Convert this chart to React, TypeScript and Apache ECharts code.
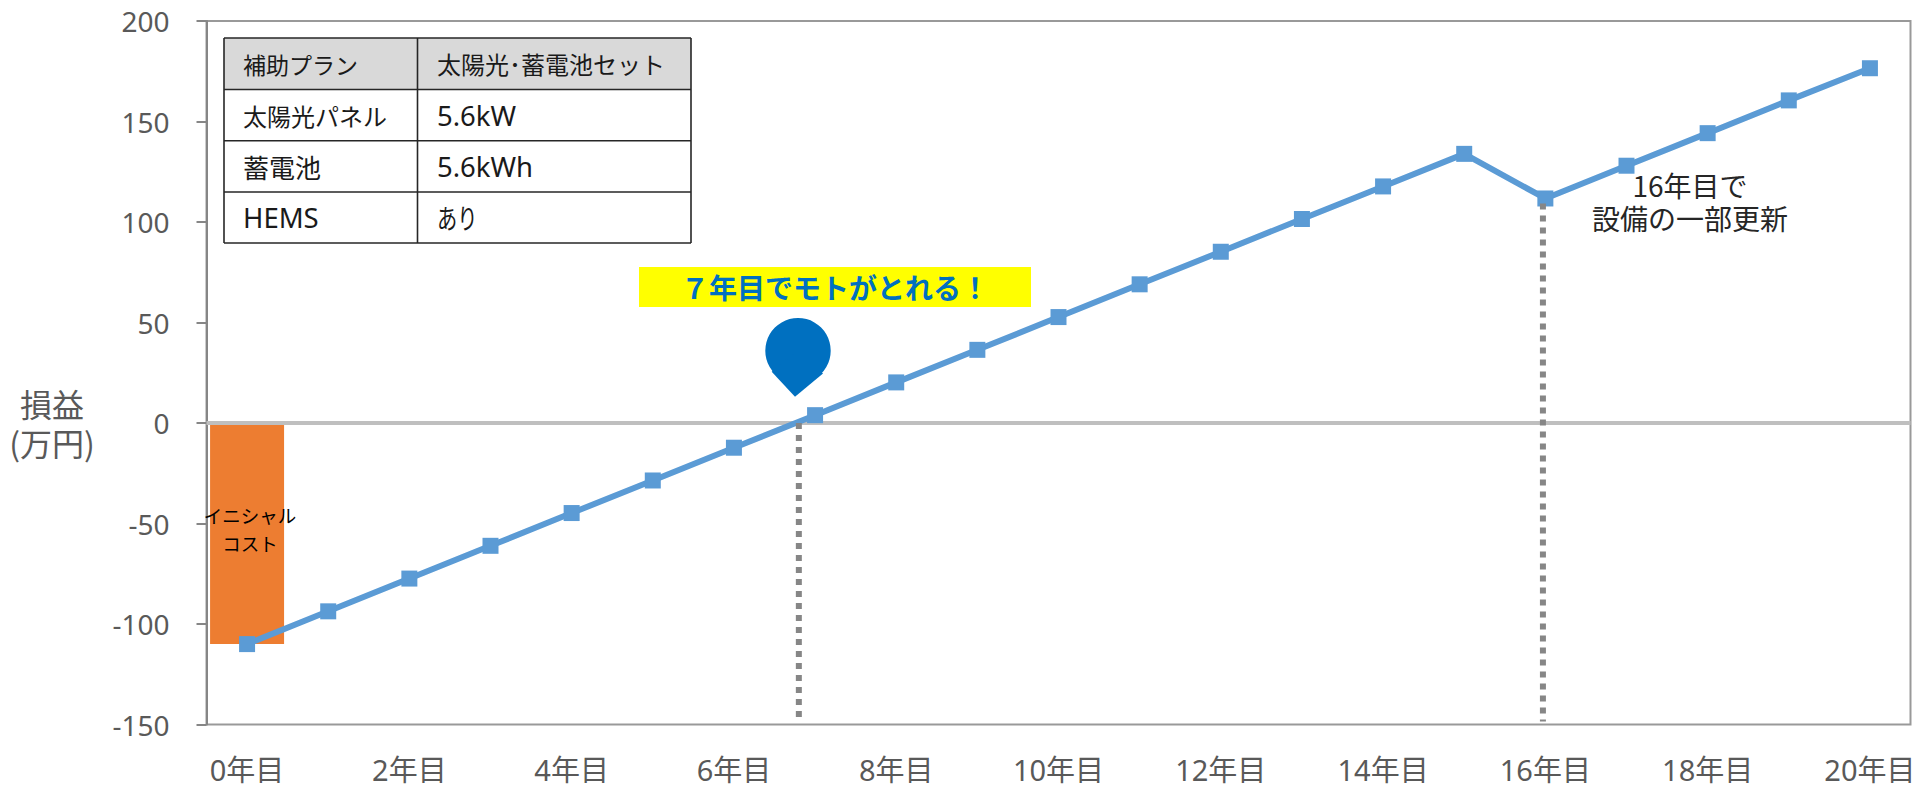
import React, { useEffect, useRef } from "react";
import * as echarts from "echarts";

const categories = ["0年目","1年目","2年目","3年目","4年目","5年目","6年目","7年目","8年目","9年目","10年目","11年目","12年目","13年目","14年目","15年目","16年目","17年目","18年目","19年目","20年目"];
const profit = [-110,-93.7,-77.4,-61.1,-44.8,-28.6,-12.3,3.9,20.2,36.4,52.7,69,85.2,101.5,117.7,133.9,111.7,128,144.2,160.5,176.5];
const initialCost = [-110];
const yMin = -150;
const yMax = 200;
const yStep = 50;
const zeroLine = [[-0.5,0],[20.5,0]];
const breakEvenDrop = [[6.8,0],[6.8,-148.5]];
const renewalDrop = [[15.97,109.2],[15.97,-148.5]];
const tableRows = [
  ["補助プラン","太陽光･蓄電池セット"],
  ["太陽光パネル","5.6kW"],
  ["蓄電池","5.6kWh"],
  ["HEMS","あり"],
];
const yTitle = "損益\n(万円)";
const barLabel = "イニシャル\nコスト";
const callout = "７年目でモトがとれる！";
const renewalNote = "16年目で\n設備の一部更新";

const FONT = "'Noto Sans','Noto Sans CJK JP',sans-serif";
const CJK = "'Noto Sans CJK JP','Noto Sans',sans-serif";

function cellFont(cell: string) {
  if (/^[0-9A-Za-z.]+$/.test(cell)) return `27.5px ${FONT}`;
  if (cell === "蓄電池") return `26px ${CJK}`;
  if (cell === "補助プラン") return `23px ${CJK}`;
  if (cell === "あり") return `27px ${CJK}`;
  return `24px ${CJK}`;
}

function tableGraphics() {
  const xs = [224, 417.5, 691];
  const ys = [38, 89.5, 140.7, 192, 243];
  const out: any[] = [];
  out.push({ type: "rect", shape: { x: xs[0], y: ys[0], width: xs[2]-xs[0], height: ys[1]-ys[0] }, style: { fill: "#D9D9D9" } });
  ys.forEach((y) => out.push({ type: "line", shape: { x1: xs[0], y1: y, x2: xs[2], y2: y }, style: { stroke: "#262626", lineWidth: 1.6 } }));
  xs.forEach((x) => out.push({ type: "line", shape: { x1: x, y1: ys[0], x2: x, y2: ys[4] }, style: { stroke: "#262626", lineWidth: 1.6 } }));
  tableRows.forEach((row, r) => {
    row.forEach((cell, c) => {
      out.push({
        type: "text",
        x: c === 0 ? 243 : 437,
        y: (ys[r] + ys[r+1]) / 2,
        scaleX: cell === "あり" ? 0.75 : 1,
        style: { text: cell, fill: "#1A1A1A", font: cellFont(cell), verticalAlign: "middle", textAlign: "left" },
      });
    });
  });
  return out;
}

export default function App() {
  const ref = useRef<HTMLDivElement>(null);
  useEffect(() => {
    document.body.style.margin = "0";
    const chart = echarts.init(ref.current!, undefined, { renderer: "svg" });
    chart.setOption({
      animation: false,
      backgroundColor: "#FFFFFF",
      grid: { left: 206.5, right: 5.5, top: 21, bottom: 60.5, outerBoundsMode: "none", show: true, borderColor: "#999999", borderWidth: 2, backgroundColor: "transparent" },
      xAxis: [
        {
          type: "category", data: categories, boundaryGap: true,
          axisLine: { show: false, onZero: false }, axisTick: { show: false },
          axisLabel: { interval: 1, color: "#595959", fontSize: 29, fontFamily: FONT, margin: 30 },
        },
        { type: "value", show: false, min: -0.5, max: 20.5, axisLine: { onZero: false } },
      ],
      yAxis: {
        type: "value", min: yMin, max: yMax, interval: yStep,
        splitLine: { show: false },
        axisLine: { show: true, onZero: false, lineStyle: { color: "#868686", width: 2 } },
        axisTick: { show: true, length: 10, lineStyle: { color: "#868686", width: 2 } },
        axisLabel: { color: "#595959", fontSize: 28, fontFamily: FONT, margin: 37 },
      },
      series: [
        {
          type: "bar", data: initialCost, barWidth: 74, z: 1,
          itemStyle: { color: "#ED7D31" },
          label: { show: true, position: "inside", formatter: barLabel, color: "#000000", fontSize: 18.5, fontFamily: CJK, lineHeight: 28, offset: [3, -5] },
        },
        { type: "line", xAxisIndex: 1, data: zeroLine, symbol: "none", z: 2, lineStyle: { color: "#BFBFBF", width: 4 } },
        {
          type: "line", data: profit, symbol: "rect", symbolSize: 16, z: 3,
          lineStyle: { color: "#5B9BD5", width: 6 }, itemStyle: { color: "#5B9BD5" },
        },
        { type: "line", xAxisIndex: 1, data: breakEvenDrop, symbol: "none", z: 4, lineStyle: { color: "#868686", width: 6, type: [6, 6] } },
        { type: "line", xAxisIndex: 1, data: renewalDrop, symbol: "none", z: 4, lineStyle: { color: "#868686", width: 6, type: [6, 6] } },
      ],
      graphic: [
        ...tableGraphics(),
        { type: "text", x: 52, y: 422, style: { text: yTitle, fill: "#595959", font: `32px ${CJK}`, lineHeight: 39, textAlign: "center", verticalAlign: "middle" } },
        { type: "rect", shape: { x: 639, y: 267, width: 392, height: 40 }, style: { fill: "#FFFF00" } },
        { type: "text", x: 835, y: 287, style: { text: callout, fill: "#0070C0", font: `bold 28px ${CJK}`, textAlign: "center", verticalAlign: "middle" } },
        { type: "circle", shape: { cx: 798, cy: 350.7, r: 32.7 }, style: { fill: "#0070C0" } },
        { type: "polygon", shape: { points: [[795,396.7],[771.7,371.7],[798,350],[823,373.5]] }, style: { fill: "#0070C0" } },
        { type: "text", x: 1690, y: 201.5, style: { text: renewalNote, fill: "#262626", font: `28px ${CJK}`, lineHeight: 33, textAlign: "center", verticalAlign: "middle" } },
      ],
    });
    return () => chart.dispose();
  }, []);
  return <div ref={ref} style={{ position: "absolute", left: 0, top: 0, width: 1916, height: 785 }} />;
}
